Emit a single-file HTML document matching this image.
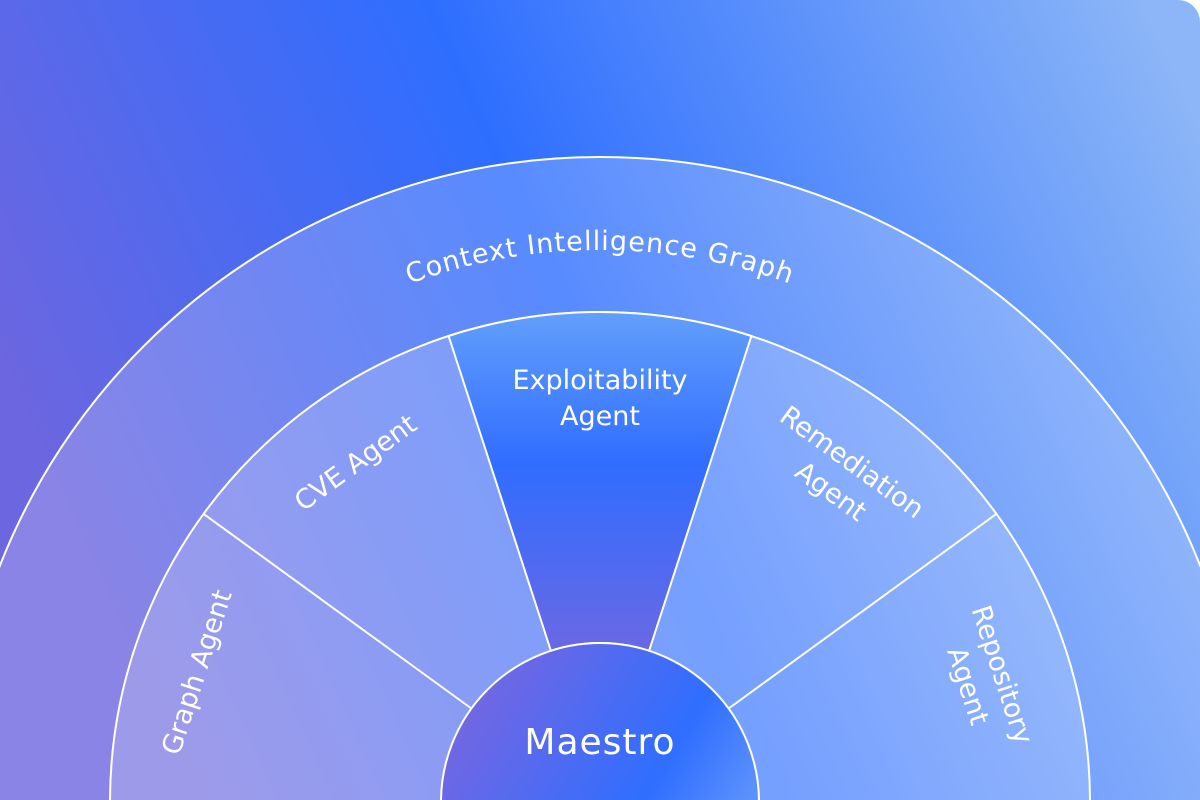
<!DOCTYPE html>
<html><head><meta charset="utf-8"><style>
html,body{margin:0;padding:0;background:#fff;width:1200px;height:800px;overflow:hidden;}
svg{display:block;overflow:hidden;}
text{font-family:"DejaVu Sans","Liberation Sans",sans-serif;fill:#fff;}
</style></head><body>
<svg width="1200" height="800" viewBox="0 0 1200 800" xmlns="http://www.w3.org/2000/svg">
<defs>
<clipPath id="frame"><rect x="0" y="0" width="1200" height="800"/></clipPath>
<linearGradient id="bg" x1="0" y1="0.45" x2="1" y2="0.15">
<stop offset="0" stop-color="#6c66e0"/>
<stop offset="0.45" stop-color="#2e6eff"/>
<stop offset="1" stop-color="#8cb6f7"/>
</linearGradient>
<linearGradient id="mid" x1="0" y1="0" x2="0" y2="1">
<stop offset="0" stop-color="#629ffc"/>
<stop offset="0.45" stop-color="#306dff"/>
<stop offset="1" stop-color="#6a68e4"/>
</linearGradient>
<linearGradient id="mae" x1="0" y1="0.2" x2="1" y2="0.8">
<stop offset="0" stop-color="#7a66df"/>
<stop offset="0.6" stop-color="#2f6eff"/>
<stop offset="1" stop-color="#7aa8fa"/>
</linearGradient>
<path id="arc" d="M 48 802 A 552 552 0 0 1 1152 802"/>
</defs>
<g clip-path="url(#frame)">
<path d="M0 0 H1178 A22 22 0 0 1 1200 22 V800 H0 Z" fill="url(#bg)"/>
<circle cx="600" cy="802" r="645" fill="rgba(255,255,255,0.2)" stroke="#fff" stroke-width="2"/>
<circle cx="600" cy="802" r="490" fill="rgba(255,255,255,0.18)" stroke="#fff" stroke-width="2"/>
<path d="M448.6 336 L550.9 650.8 A159 159 0 0 1 649.1 650.8 L751.4 336 A490 490 0 0 0 448.6 336 Z" fill="url(#mid)" stroke="#fff" stroke-width="2"/>
<g stroke="#fff" stroke-width="2">
<line x1="203.6" y1="513.9" x2="471.4" y2="708.5"/>
<line x1="996.4" y1="513.9" x2="728.6" y2="708.5"/>
</g>
<circle cx="600" cy="802" r="159" fill="url(#mae)" stroke="#fff" stroke-width="2"/>
<text font-size="27" letter-spacing="1"><textPath href="#arc" startOffset="50%" text-anchor="middle">Context Intelligence Graph</textPath></text>
<text x="600" y="389" font-size="27" text-anchor="middle">Exploitability</text>
<text x="600" y="425" font-size="27" text-anchor="middle">Agent</text>
<text x="600" y="754" font-size="36" text-anchor="middle" letter-spacing="1">Maestro</text>
<g transform="translate(355,462) rotate(-36)"><text x="0" y="10" font-size="27" text-anchor="middle">CVE Agent</text></g>
<g transform="translate(196,672) rotate(-72)"><text x="0" y="10" font-size="27" text-anchor="middle">Graph Agent</text></g>
<g transform="translate(842,476) rotate(36)"><text x="0" y="-8" font-size="27" text-anchor="middle">Remediation</text><text x="0" y="28" font-size="27" text-anchor="middle">Agent</text></g>
<g transform="translate(986,680) rotate(72)"><text x="0" y="-8" font-size="27" text-anchor="middle">Repository</text><text x="0" y="28" font-size="27" text-anchor="middle">Agent</text></g>
</g>
</svg>
</body></html>
